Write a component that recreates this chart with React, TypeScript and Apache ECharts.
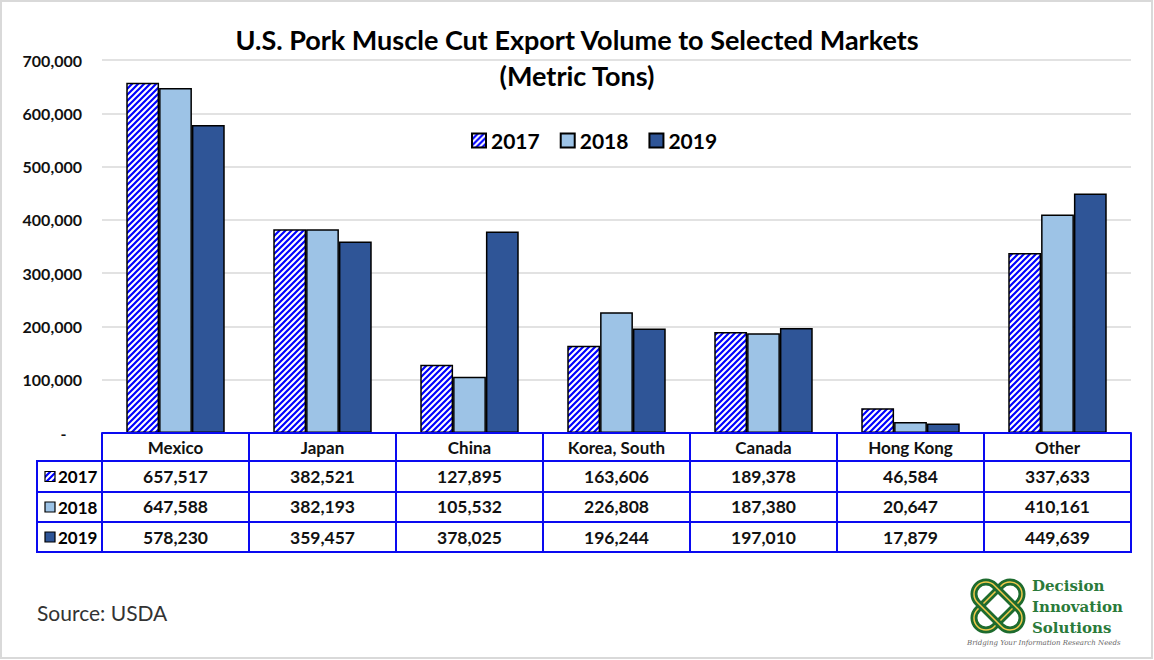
import React, { useEffect, useRef } from 'react';
import * as echarts from 'echarts';

const categories = ['Mexico', 'Japan', 'China', 'Korea, South', 'Canada', 'Hong Kong', 'Other'];
const years = ['2017', '2018', '2019'];
const v2017 = [657517, 382521, 127895, 163606, 189378, 46584, 337633];
const v2018 = [647588, 382193, 105532, 226808, 187380, 20647, 410161];
const v2019 = [578230, 359457, 378025, 196244, 197010, 17879, 449639];
const seriesValues = [v2017, v2018, v2019];

const FONT = 'Lato, "Open Sans", sans-serif';
const TABLE_BLUE = '#0A0AF0';
const W = 1154;
const H = 660;
const GRID_L = 102;
const GRID_R = 1131;
const GRID_T = 60;
const AXIS_Y = 433;
const ROW_Y = [461, 492, 522, 552];
const TABLE_L = 37;

function makeHatch(): string {
  const c = document.createElement('canvas');
  c.width = 6;
  c.height = 6;
  const ctx = c.getContext('2d')!;
  ctx.fillStyle = '#ffffff';
  ctx.fillRect(0, 0, 6, 6);
  ctx.strokeStyle = '#0000FF';
  ctx.lineWidth = 2.2;
  ctx.beginPath();
  ctx.moveTo(-2, 2); ctx.lineTo(2, -2);
  ctx.moveTo(0, 6); ctx.lineTo(6, 0);
  ctx.moveTo(4, 8); ctx.lineTo(8, 4);
  ctx.stroke();
  return c.toDataURL();
}

const fmt = (n: number) => n.toLocaleString('en-US');

export default function App() {
  const ref = useRef<HTMLDivElement>(null);
  useEffect(() => {
    document.body.style.margin = '0';
    const chart = echarts.init(ref.current!, null, { renderer: 'svg' });
    const hatch = { image: makeHatch(), repeat: 'repeat', imageWidth: 6, imageHeight: 6 } as any;
    const colors: any[] = [hatch, '#9DC3E6', '#2F5597'];

    const graphics: any[] = [];
    graphics.push({ type: 'rect', shape: { x: 1, y: 1, width: W - 3, height: H - 3 }, style: { fill: 'none', stroke: '#D9D9D9', lineWidth: 2 }, silent: true });
    ROW_Y.forEach((y) => {
      graphics.push({ type: 'line', shape: { x1: TABLE_L, y1: y, x2: GRID_R + 1, y2: y }, style: { stroke: TABLE_BLUE, lineWidth: 2 }, z: 10 });
    });
    graphics.push({ type: 'line', shape: { x1: TABLE_L, y1: ROW_Y[0] - 1, x2: TABLE_L, y2: ROW_Y[3] + 1 }, style: { stroke: TABLE_BLUE, lineWidth: 2 }, z: 10 });
    years.forEach((yr, i) => {
      const cy = (ROW_Y[i] + ROW_Y[i + 1]) / 2;
      graphics.push({ type: 'rect', shape: { x: 45, y: cy - 5, width: 10, height: 10 }, style: { fill: colors[i], stroke: '#000', lineWidth: 1.2 }, z: 10 });
      graphics.push({ type: 'text', x: 58, y: cy, style: { text: yr, fontFamily: FONT, fontWeight: 'bold', fontSize: 17, fill: '#000', verticalAlign: 'middle', align: 'left' }, z: 10 });
    });
    graphics.push({ type: 'text', x: 37, y: 612, style: { text: 'Source: USDA', fontFamily: FONT, fontSize: 21, fill: '#333', verticalAlign: 'middle' } });
    // logo
    const lx = 998, ly = 606;
    [45, -45].forEach((rot) => {
      graphics.push({
        type: 'rect', x: lx, y: ly, rotation: (rot * Math.PI) / 180,
        shape: { x: -29, y: -12, width: 58, height: 24, r: 12 },
        style: { fill: 'none', stroke: '#1D6B2E', lineWidth: 7 },
      });
      graphics.push({
        type: 'rect', x: lx, y: ly, rotation: (rot * Math.PI) / 180,
        shape: { x: -29, y: -12, width: 58, height: 24, r: 12 },
        style: { fill: 'none', stroke: '#F2C94C', lineWidth: 1.5 },
      });
    });
    const serif = '"DejaVu Serif", "Liberation Serif", serif';
    ['Decision', 'Innovation', 'Solutions'].forEach((t, i) => {
      graphics.push({ type: 'text', x: 1032, y: 586 + i * 21, style: { text: t, fontFamily: serif, fontWeight: 'bold', fontSize: 15, fill: '#2A7A3A', verticalAlign: 'middle' } });
    });
    graphics.push({ type: 'text', x: 967, y: 643, style: { text: 'Bridging Your Information Research Needs', fontFamily: serif, fontStyle: 'italic', fontSize: 7, fill: '#666', verticalAlign: 'middle' } });

    const rich: any = {
      n: { fontFamily: FONT, fontWeight: 'bold', fontSize: 17, color: '#111', lineHeight: 28 },
      v: { fontFamily: FONT, fontWeight: 'bold', fontSize: 17.5, color: '#111', lineHeight: 30.5 },
    };

    chart.setOption({
      animation: false,
      backgroundColor: '#fff',
      title: {
        text: 'U.S. Pork Muscle Cut Export Volume to Selected Markets\n(Metric Tons)',
        left: 'center',
        top: 16,
        textStyle: { fontFamily: FONT, fontWeight: 'bold', fontSize: 27, color: '#000', lineHeight: 36 },
      },
      legend: {
        data: years,
        left: 466,
        top: 125,
        itemWidth: 14,
        itemHeight: 14,
        itemGap: 20,
        icon: 'rect',
        textStyle: { fontFamily: FONT, fontWeight: 'bold', fontSize: 21, color: '#000' },
      },
      grid: { left: GRID_L, right: W - GRID_R, top: GRID_T, bottom: H - AXIS_Y, containLabel: false },
      xAxis: {
        type: 'category',
        data: categories,
        axisLine: { show: true, lineStyle: { color: TABLE_BLUE, width: 2 } },
        axisTick: { show: true, length: ROW_Y[3] - AXIS_Y, lineStyle: { color: TABLE_BLUE, width: 2 } },
        axisLabel: {
          margin: 0,
          interval: 0,
          formatter: (val: string, idx: number) =>
            `{n|${val}}\n{v|${fmt(v2017[idx])}}\n{v|${fmt(v2018[idx])}}\n{v|${fmt(v2019[idx])}}`,
          rich,
        },
        z: 10,
      },
      yAxis: {
        type: 'value',
        min: 0,
        max: 700000,
        interval: 100000,
        axisLine: { show: false },
        axisTick: { show: false },
        splitLine: { lineStyle: { color: '#D9D9D9', width: 1.5 } },
        axisLabel: {
          margin: 20,
          fontFamily: FONT,
          fontWeight: 'bold',
          fontSize: 16,
          color: '#111',
          formatter: (v: number) => (v === 0 ? '-    ' : fmt(v)),
        },
      },
      series: seriesValues.map((vals, i) => ({
        name: years[i],
        type: 'bar',
        data: vals,
        barGap: '0%',
        barCategoryGap: '33%',
        itemStyle: { color: colors[i], borderColor: '#000', borderWidth: 1.5 },
      })),
      graphic: graphics,
    });
    return () => chart.dispose();
  }, []);
  return <div ref={ref} style={{ position: 'absolute', left: 0, top: 0, width: W, height: H }} />;
}
